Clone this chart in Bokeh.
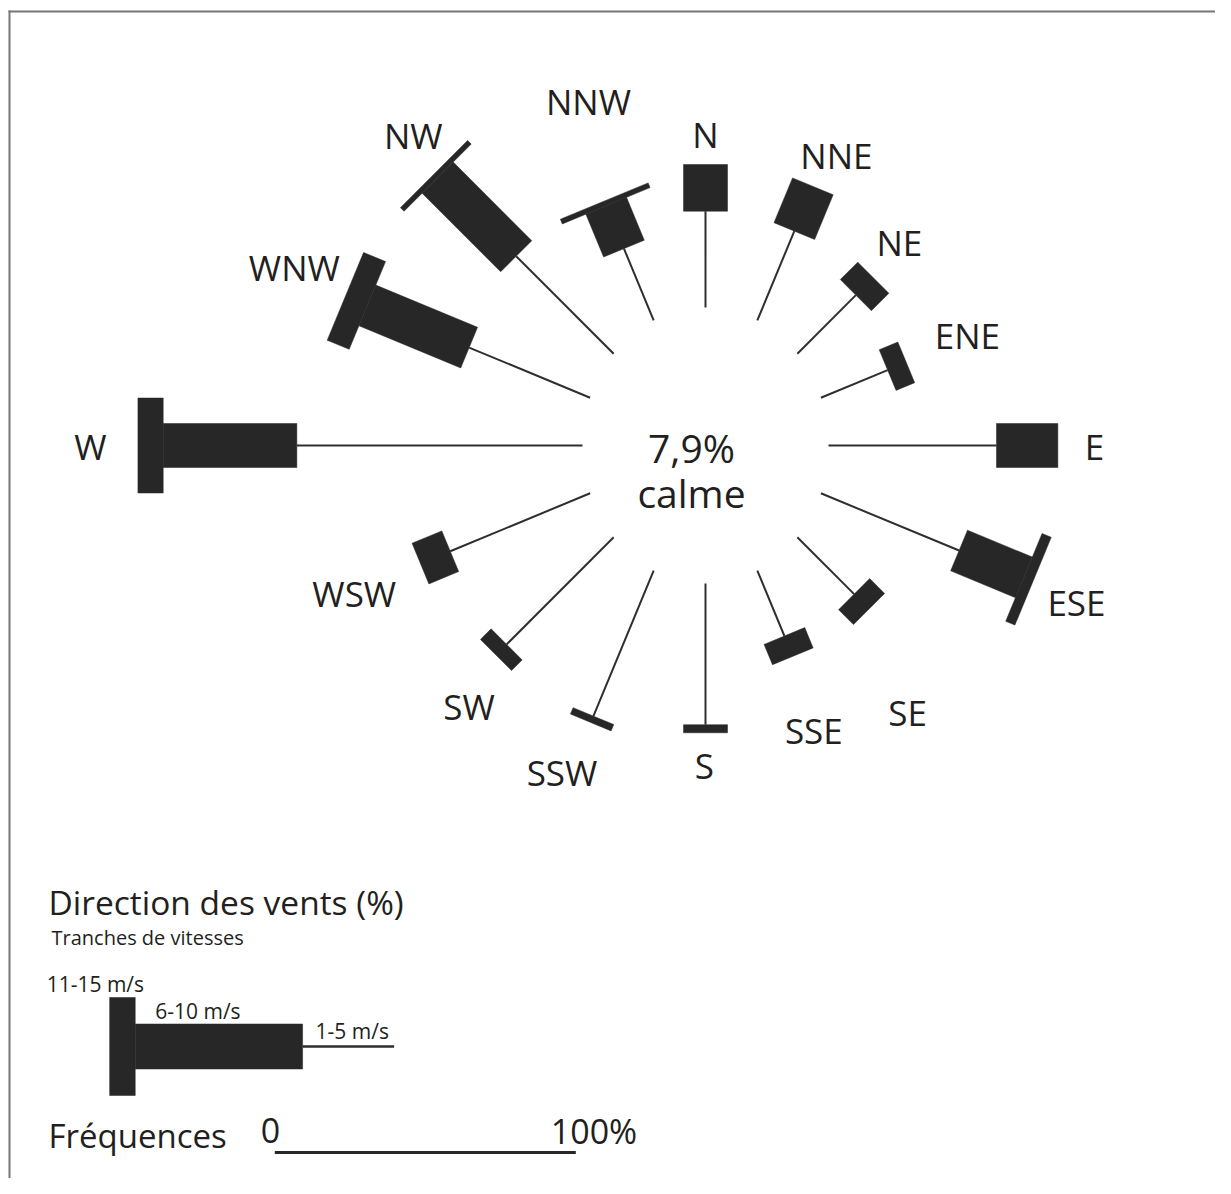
import math
from bokeh.plotting import figure
from bokeh.models import Range1d, ColumnDataSource
from bokeh.core.properties import value
from bokeh.embed import file_html
from bokeh.resources import INLINE

# ---------------- data (frequencies, %) ----------------
directions = ["N", "NNE", "NE", "ENE", "E", "ESE", "SE", "SSE",
              "S", "SSW", "SW", "WSW", "W", "WNW", "NW", "NNW"]
speed_1_5 = [32.0, 32.1, 27.5, 24.0, 55.8, 49.7, 26.7, 23.5,
             46.9, 52.3, 50.3, 50.3, 94.9, 43.5, 45.8, 25.8]
speed_6_10 = [15.5, 16.1, 8.2, 6.7, 20.4, 23.3, 7.0, 7.3,
              2.7, 2.3, 5.0, 10.7, 44.4, 36.6, 36.9, 15.4]
speed_11_15 = [0, 0, 0, 0, 0, 3.3, 0, 0,
               0, 0, 0, 0, 8.4, 7.9, 1.7, 1.7]
calm_text = ["7,9%", "calme"]
speed_classes = ["1-5 m/s", "6-10 m/s", "11-15 m/s"]
legend_sample = [30.4, 55.6, 8.5]          # 1-5, 6-10, 11-15 in the key
scale_labels = ["0", "100%"]
scale_values = [0, 100]
title_text = "Direction des vents (%)"
subtitle_text = "Tranches de vitesses"
scale_title = "Fréquences"

# ---------------- layout ----------------
W, H = 1215, 1178
PX = 3.01                    # pixels per percent
CX, CY = 705, 445            # centre of the rose
RX, RY = 123, 138            # inner (calm) ring semi-axes
BAR_W, THICK_W = 44, 95
INK = "#272727"
LINE_C = "#2e2e2e"
TXT = "#231f20"
FONT = value("Open Sans")
# direction label placement: (distance from centre px, bearing deg)
LABEL_POLAR = [(311, 0), (318, 24.3), (281, 43.6), (284, 67.2),
               (389, 90.1), (403, 113.0), (335, 142.9), (305, 159.2),
               (320, 180.2), (357, 203.7), (352, 222.2), (381, 247.2),
               (615, 269.9), (448, 293.4), (426, 316.7), (363, 341.2)]

p = figure(width=W, height=H, output_backend="svg", toolbar_location=None,
           x_range=Range1d(0, W), y_range=Range1d(H, 0),
           min_border=0, outline_line_color=None)
p.axis.visible = False
p.grid.visible = False
p.background_fill_color = "white"
p.border_fill_color = "white"

seg = dict(x0=[], y0=[], x1=[], y1=[])
bars_x, bars_y = [], []
lab = dict(x=[], y=[], t=[])


def rect_poly(ax, ay, ux, uy, r_a, r_b, w):
    vx, vy = -uy, ux
    h = w / 2.0
    xs = [ax + ux * r_a + vx * h, ax + ux * r_b + vx * h,
          ax + ux * r_b - vx * h, ax + ux * r_a - vx * h]
    ys = [ay + uy * r_a + vy * h, ay + uy * r_b + vy * h,
          ay + uy * r_b - vy * h, ay + uy * r_a - vy * h]
    return xs, ys


for i, d in enumerate(directions):
    phi = math.radians(i * 22.5)
    ux, uy = math.sin(phi), -math.cos(phi)
    r0 = RX * RY / math.sqrt((RY * ux) ** 2 + (RX * uy) ** 2)
    r1 = r0 + speed_1_5[i] * PX
    r2 = r1 + speed_6_10[i] * PX
    r3 = r2 + speed_11_15[i] * PX
    seg["x0"].append(CX + ux * r0); seg["y0"].append(CY + uy * r0)
    seg["x1"].append(CX + ux * r1); seg["y1"].append(CY + uy * r1)
    if speed_6_10[i] > 0:
        xs, ys = rect_poly(CX, CY, ux, uy, r1, r2, BAR_W)
        bars_x.append(xs); bars_y.append(ys)
    if speed_11_15[i] > 0:
        xs, ys = rect_poly(CX, CY, ux, uy, r2, r3, THICK_W)
        bars_x.append(xs); bars_y.append(ys)
    rl, bl = LABEL_POLAR[i]
    b = math.radians(bl)
    lab["x"].append(CX + math.sin(b) * rl)
    lab["y"].append(CY - math.cos(b) * rl)
    lab["t"].append(d)

p.segment(x0="x0", y0="y0", x1="x1", y1="y1", source=ColumnDataSource(seg),
          line_color=LINE_C, line_width=2)
p.patches(xs=bars_x, ys=bars_y, fill_color=INK, line_color=INK, line_width=0.5)
p.text(x="x", y="y", text="t", source=ColumnDataSource(lab), text_font=FONT,
       text_font_size="35px", text_color=TXT, text_align="center",
       text_baseline="middle")


def label(x, y, txt, size, align="left"):
    # y is the vertical middle of the capitals
    p.text(x=x, y=y, text=txt, text_font=FONT, text_font_size=f"{size}px",
           text_color=TXT, text_align=align, text_baseline="middle")


# calm label
label([CX - 14, CX - 14], [CY + 2, CY + 47], calm_text, 39, "center")

# ---------------- key ----------------
LX, LY = 393.6, 1046
l1 = LX - legend_sample[0] * PX
l2 = l1 - legend_sample[1] * PX
l3 = l2 - legend_sample[2] * PX
p.segment(x0=[LX], y0=[LY], x1=[l1], y1=[LY], line_color=LINE_C, line_width=2.5)
kx, ky = [], []
for a, b, w in [(l1, l2, 45), (l2, l3, 98)]:
    xs, ys = rect_poly(0, LY, -1, 0, -a, -b, w)
    kx.append(xs); ky.append(ys)
p.patches(xs=kx, ys=ky, fill_color=INK, line_color=INK, line_width=0.5)

label([48], [901], [title_text], 33.5)
label([51], [937], [subtitle_text], 20)
label([l3 - 63, l2 + 20, l1 + 13], [983, 1010, 1030],
      [speed_classes[2], speed_classes[1], speed_classes[0]], 21)

S0 = 274.3
s_end = S0 + (scale_values[1] - scale_values[0]) * PX
p.segment(x0=[S0], y0=[1152], x1=[s_end], y1=[1152], line_color=INK, line_width=3)
label([48], [1135], [scale_title], 33)
label([S0 - 14, s_end - 25], [1130, 1130], scale_labels, 34)

# frame (top and left edges)
p.segment(x0=[8, 9], y0=[11, 10], x1=[W, 9], y1=[11, H],
          line_color="#777777", line_width=2)

open("out.html", "w").write(file_html(p, INLINE))
